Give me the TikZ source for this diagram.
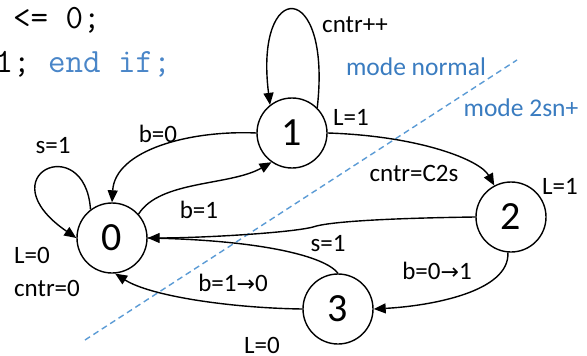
\documentclass[tikz,border=0pt]{standalone}
\usepackage{fontspec}
\setmainfont{Carlito}
\newfontfamily\arrfont{DejaVu Sans}
\usetikzlibrary{arrows.meta}
\definecolor{codeblue}{HTML}{4A86C8}
\definecolor{modeblue}{HTML}{3A7CC0}
\definecolor{dashblue}{HTML}{5B9BD5}
\newcommand{\myarrow}{{\arrfont\fontsize{22}{22}\selectfont →}}
\begin{document}
\begin{tikzpicture}[x=1pt,y=-1pt,
  state/.style={circle,draw,line width=1.4pt,minimum size=70pt,inner sep=0pt,font=\fontsize{40}{40}\selectfont},
  lbl/.style={font=\fontsize{25}{25}\selectfont,inner sep=0pt},
  mode/.style={font=\fontsize{25.5}{25.5}\selectfont,text=modeblue,inner sep=0pt},
  code/.style={font=\ttfamily\fontsize{34}{34}\selectfont,inner sep=0pt,anchor=base west},
  edge/.style={line width=1.4pt,-{Triangle[length=12pt,width=10pt]}},
  plain/.style={line width=1.4pt}]
\useasboundingbox (0,0) rectangle (587,356);
\clip (0,0) rectangle (587,356);
% code fragment
\node[code] (c1) at (-4.5,28) {\ <= 0;};
\node[code] (c2) at (-4.5,72) {1; \textcolor{codeblue}{end if;}};
% mode divider
\coordinate (d1) at (85,340);
\coordinate (d2) at (517,60);
\draw[dashblue,line width=1.4pt,dash pattern=on 6pt off 4pt] (d1) -- (d2);
\node[mode] (mn) at (416,67) {mode normal};
\node[mode] (m2) at (521,108) {mode 2sn+};
% states
\node[state] (s0) at (112,238) {0};
\node[state] (s1) at (292,133) {1};
\node[state] (s2) at (511,217) {2};
\node[state] (s3) at (338,309) {3};
% self loops
\draw[edge] (s1.45) .. controls (332,-22) and (254,-22) .. (s1.128);
\node[lbl] (l1) at (355,25) {cntr++};
\draw[edge] (s0.127) .. controls (85,130) and (-15,175) .. (s0.180);
\node[lbl] (l2) at (53,146) {s=1};
% edges
\draw[edge] (s1.180) .. controls (190,130) and (115,150) .. (s0.90);
\node[lbl] (l3) at (158,134) {b=0};
\draw[edge] (s0.42) .. controls (160,180) and (230,186) .. (s1.235);
\node[lbl] (l4) at (199,210) {b=1};
\draw[edge] (s1.0) .. controls (420,136) and (480,160) .. (s2.118);
\node[lbl] (l5) at (414,173) {cntr=C2s};
\coordinate (k) at (313,227);
\draw[edge] (s2.180) .. controls (400,218) and (330,221) .. (k) .. controls (290,233) and (200,238) .. (s0.0);
\draw[plain] (s3.90) .. controls (325,256) and (260,240) .. (s0.0);
\node[lbl] (l6) at (328,244) {s=1};
\draw[edge] (s2.265) .. controls (510,292) and (430,306) .. (s3.0);
\node[lbl] (l7) at (437,271) {b=0\myarrow 1};
\draw[edge] (s3.180) .. controls (230,308) and (150,296) .. (s0.275);
\node[lbl] (l8) at (233,283) {b=1\myarrow 0};
% outputs
\node[lbl] (o1) at (351,117) {L=1};
\node[lbl] (o2) at (560,186) {L=1};
\node[lbl] (o3) at (32,255) {L=0};
\node[lbl] (o4) at (47,288) {cntr=0};
\node[lbl] (o5) at (262,345) {L=0};
\end{tikzpicture}
\end{document}
